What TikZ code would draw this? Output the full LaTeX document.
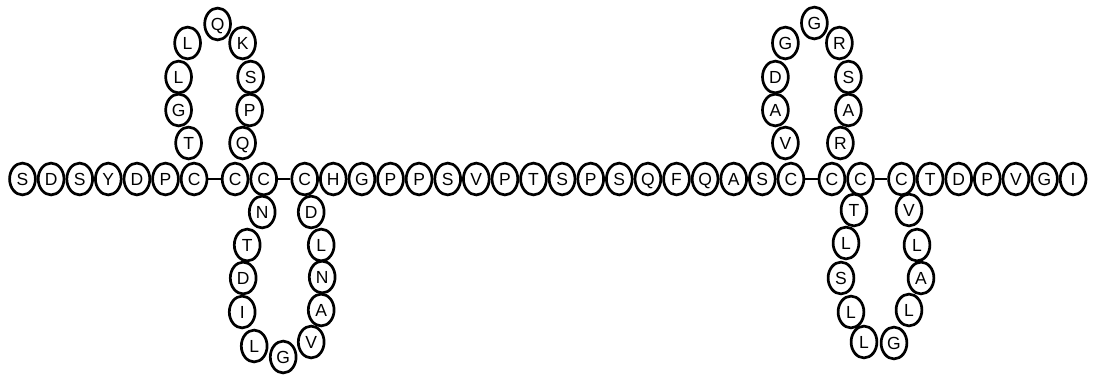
\documentclass[tikz,border=0pt]{standalone}
\usepackage{fontspec}
\setsansfont{Liberation Sans}
\usetikzlibrary{shapes.geometric}
\begin{document}
\begin{tikzpicture}[x=1pt,y=-1pt,
  bead/.style={ellipse,draw,line width=2.7pt,minimum width=25.8pt,minimum height=31.8pt,
    inner sep=0pt,font=\sffamily\fontsize{17.5}{17.5}\selectfont,text height=12.5pt,text depth=0pt},
  link/.style={line width=1.6pt}]
\useasboundingbox (0,0) rectangle (1097,376);
% main chain
\foreach \x/\l [count=\i] in {22.5/S,51.1/D,79.7/S,108.3/Y,136.9/D,165.5/P,194.1/C,
  235.1/C,263.7/C,
  304.7/C,333.3/H,361.9/G,390.5/P,419.1/P,447.7/S,476.3/V,504.9/P,533.5/T,562.1/S,590.7/P,619.3/S,647.9/Q,676.5/F,705.1/Q,733.7/A,762.3/S,790.9/C,
  831.9/C,860.5/C,
  901.5/C,930.1/T,958.7/D,987.3/P,1015.9/V,1044.5/G,1073.1/I}
  \node[bead] (m\i) at (\x,179) {\l};
% loop A (up)
\foreach \dx/\y/\l [count=\i] in {-26/143/T,-36/110/G,-36/77/L,-27/43/L,3/24/Q,28/43/K,36/77/S,35/110/P,28/143/Q}
  \node[bead] (a\i) at ({214.6+\dx},\y) {\l};
% loop B (down)
\foreach \dx/\y/\l [count=\i] in {-22/212/N,-37/245/T,-41/278/D,-42/312/I,-30/346/L,-1/357/G,27/342/V,37/310/A,38/277/N,37/245/L,27/212/D}
  \node[bead] (b\i) at ({284.2+\dx},\y) {\l};
% loop C (up)
\foreach \dx/\y/\l [count=\i] in {-26/143/V,-36/110/A,-36/77/D,-26/43/G,3/23/G,28/43/R,37/77/S,37/110/A,29/143/R}
  \node[bead] (c\i) at ({811.4+\dx},\y) {\l};
% loop D (down)
\foreach \dx/\y/\l [count=\i] in {-27/210/T,-35/243/L,-40/278/S,-30/312/L,-17/342/L,13/343/G,28/310/L,40/278/A,36/245/L,28/210/V}
  \node[bead] (d\i) at ({881+\dx},\y) {\l};
% links
\draw[link] (m7) -- (m8);
\draw[link] (m9) -- (m10);
\draw[link] (m27) -- (m28);
\draw[link] (m29) -- (m30);
\end{tikzpicture}
\end{document}
